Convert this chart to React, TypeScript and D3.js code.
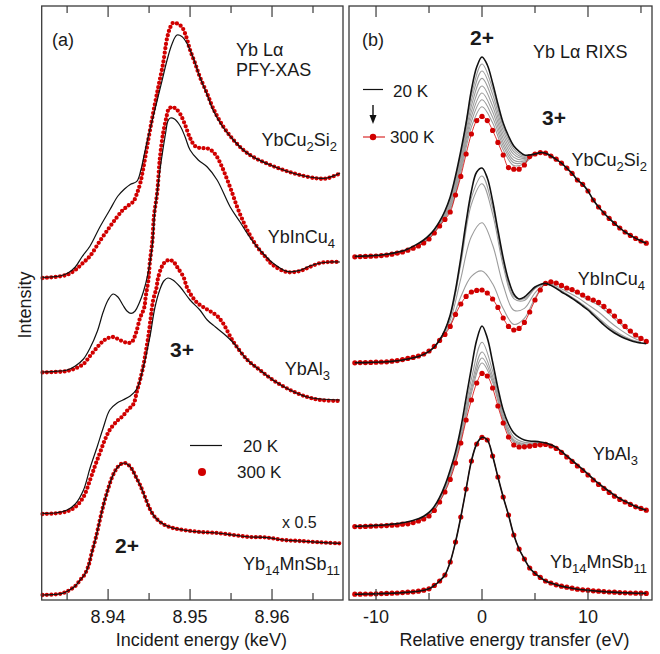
import { useRef, useEffect } from "react";
import * as d3 from "d3";

type Pt = [number, number];

const WIDTH = 660;
const HEIGHT = 654;
const TOP = 6;
const BOTTOM = 600;
const PANEL_A: [number, number] = [41.7, 343];
const PANEL_B: [number, number] = [349, 652];
const FONT = "'Liberation Sans', Arial, Helvetica, sans-serif";
const INK = "#1a1a1a";
const FRAME = "#3a3a3a";
const RED = "#d10000";
const GRAY = "#9c9c9c";

// axes
const intensityDomain = [0, 297];
const xasDomain = [8.9319, 8.96866];
const rixsDomain = [-12.55, 16.04];
const xasMajorTicks = [8.94, 8.95, 8.96];
const xasMinorTicks = [8.935, 8.945, 8.955, 8.965];
const rixsMajorTicks = [-10, 0, 10];
const rixsMinorTicks = [-5, 5, 15];

// (a) Yb La PFY-XAS, [incident energy keV, intensity], curves offset vertically
const xasCu2Si2_20K: Pt[] = [
  [8.932, 161.3], [8.9329, 161.5], [8.9341, 162], [8.9351, 163.5], [8.936, 166.5], [8.9368, 171.5],
  [8.9378, 177], [8.939, 186.5], [8.9402, 195], [8.9412, 202], [8.942, 205.5], [8.9427, 207.8],
  [8.9435, 209.3], [8.944, 215], [8.9444, 222.5], [8.9448, 230], [8.9454, 240], [8.946, 250],
  [8.9466, 260], [8.9472, 270], [8.9478, 278], [8.9484, 282.5], [8.949, 281.8], [8.9496, 278.5],
  [8.9504, 271], [8.9512, 261.5], [8.9521, 252.5], [8.9528, 245], [8.954, 236.5], [8.9553, 230],
  [8.9565, 225], [8.9577, 221.5], [8.9595, 218], [8.9614, 215], [8.9634, 212.5], [8.9655, 211],
  [8.9667, 211], [8.9683, 213.5],
];
const xasCu2Si2_300K: Pt[] = [
  [8.932, 161], [8.9329, 161.3], [8.9341, 161.8], [8.9351, 162.8], [8.936, 165], [8.9368, 168],
  [8.9378, 172], [8.939, 179.5], [8.9402, 186.5], [8.9411, 191.5], [8.9418, 195], [8.9424, 197],
  [8.9431, 199.3], [8.9435, 203], [8.9439, 208], [8.9443, 216], [8.9449, 230], [8.9455, 243.5],
  [8.9461, 256], [8.9467, 268], [8.9472, 281], [8.9476, 286.5], [8.9479, 288.5], [8.9484, 288.3],
  [8.949, 286.5], [8.9495, 282], [8.95, 275], [8.9506, 268.5], [8.9512, 261.5], [8.9521, 253],
  [8.9528, 246], [8.954, 237], [8.9553, 230], [8.9565, 225], [8.9577, 221.5], [8.9595, 218],
  [8.9614, 215], [8.9634, 212.5], [8.9655, 210.8], [8.9667, 210.8], [8.9683, 213.3],
];
const xasInCu4_20K: Pt[] = [
  [8.932, 114], [8.9335, 114.3], [8.935, 115], [8.936, 117], [8.937, 120.5], [8.9378, 126],
  [8.9387, 134.5], [8.9394, 144], [8.94, 150], [8.9406, 153], [8.9412, 151.5], [8.9418, 147.5],
  [8.9423, 144.5], [8.9428, 143.3], [8.9433, 144.5], [8.9438, 148.5], [8.9443, 154], [8.9449, 164],
  [8.9454, 177.5], [8.9457, 194], [8.9461, 207.5], [8.9465, 220], [8.947, 233], [8.9473, 239.5],
  [8.9476, 241], [8.9481, 240.5], [8.9488, 237], [8.9494, 231.5], [8.95, 225], [8.951, 220],
  [8.9521, 216.5], [8.9533, 210], [8.9549, 196.5], [8.9561, 189], [8.9571, 182.5], [8.9582, 176.5],
  [8.9592, 172], [8.9601, 168.5], [8.9618, 164.3], [8.9634, 164.8], [8.9646, 167], [8.9659, 168.5],
  [8.9671, 169], [8.9683, 169],
];
const xasInCu4_300K: Pt[] = [
  [8.932, 113.8], [8.9335, 114], [8.935, 114.5], [8.936, 115.8], [8.937, 118], [8.9378, 122],
  [8.9387, 126.5], [8.9394, 129.5], [8.94, 131], [8.9406, 131.5], [8.9412, 130.5], [8.9418, 129.3],
  [8.9424, 128.5], [8.9429, 129], [8.9434, 133.5], [8.9439, 141], [8.9444, 146], [8.9446, 152],
  [8.9449, 159.5], [8.9451, 169], [8.9454, 179.5], [8.9456, 192], [8.946, 204], [8.9463, 220],
  [8.9467, 233], [8.9471, 241], [8.9474, 245.5], [8.9478, 246.5], [8.9483, 245.5], [8.9488, 243],
  [8.9494, 237.5], [8.95, 231], [8.9506, 227], [8.9512, 226], [8.9521, 225.8], [8.9527, 224.5],
  [8.9533, 221.5], [8.9539, 216.5], [8.9545, 210.5], [8.9551, 204], [8.9557, 197], [8.9563, 191],
  [8.9571, 184], [8.9582, 176.5], [8.9592, 171.5], [8.9601, 167.5], [8.9618, 164], [8.9634, 164.5],
  [8.9646, 166.5], [8.9659, 168.5], [8.9671, 169], [8.9683, 169],
];
const xasAl3_20K: Pt[] = [
  [8.932, 43.3], [8.9335, 43.5], [8.935, 45], [8.936, 48], [8.937, 55], [8.9378, 66], [8.9387, 77],
  [8.9394, 86], [8.9402, 95], [8.9411, 98.5], [8.9418, 100], [8.9427, 102], [8.9435, 105.5],
  [8.9443, 116.5], [8.9451, 131.5], [8.9457, 146], [8.9463, 155], [8.9468, 159.5], [8.9473, 161],
  [8.9479, 160], [8.9488, 156.5], [8.95, 150], [8.9512, 145], [8.9521, 140], [8.9531, 136.5],
  [8.954, 133.5], [8.9553, 128.5], [8.957, 120], [8.9585, 115], [8.9601, 110], [8.9622, 105],
  [8.9643, 101.5], [8.9659, 100.5], [8.9683, 100],
];
const xasAl3_300K: Pt[] = [
  [8.932, 43], [8.9335, 43.3], [8.935, 44.3], [8.936, 46.5], [8.937, 51.5], [8.9378, 60],
  [8.9384, 67], [8.939, 73.5], [8.9396, 80], [8.9402, 85], [8.9411, 89.5], [8.9418, 92],
  [8.9424, 95], [8.9431, 98], [8.9435, 104], [8.9439, 110], [8.9443, 117], [8.9446, 124],
  [8.9449, 131.5], [8.9452, 141], [8.9455, 150], [8.9459, 156], [8.9461, 161], [8.9466, 167],
  [8.9471, 169.5], [8.9476, 170], [8.9481, 168.5], [8.9485, 166], [8.9492, 161.5], [8.9496, 156.5],
  [8.9502, 152], [8.9509, 148.5], [8.9516, 146.5], [8.9524, 144.5], [8.9533, 142], [8.954, 138.5],
  [8.9553, 129], [8.957, 120], [8.9585, 115], [8.9601, 110], [8.9622, 105], [8.9643, 101.5],
  [8.9659, 100], [8.9683, 99.5],
];
const xasMnSb_20K: Pt[] = [
  [8.932, 2.5], [8.9335, 2.8], [8.9344, 3.3], [8.9351, 4.5], [8.936, 7], [8.9366, 10], [8.9371, 12.5],
  [8.9376, 17], [8.938, 23.5], [8.9385, 31], [8.939, 40], [8.9395, 48.5], [8.94, 55.5], [8.9405, 61.5],
  [8.941, 65.5], [8.9415, 67.8], [8.942, 68.5], [8.9424, 67.8], [8.9429, 65.5], [8.9434, 61.5],
  [8.9439, 57.5], [8.9445, 51.5], [8.9451, 45.5], [8.9457, 41.5], [8.9467, 38], [8.9479, 36],
  [8.9492, 35], [8.9512, 34], [8.9533, 33.5], [8.9553, 32.5], [8.9573, 31.5], [8.9592, 31.3],
  [8.9614, 30], [8.9634, 29.5], [8.9659, 28.8], [8.9683, 28.3],
];
const xasMnSb_300K: Pt[] = [
  [8.932, 2.5], [8.9335, 2.8], [8.9344, 3.3], [8.9351, 4.5], [8.936, 7], [8.9366, 10], [8.9371, 12.5],
  [8.9376, 17], [8.938, 23.5], [8.9385, 31], [8.939, 40], [8.9395, 48.5], [8.94, 55.5], [8.9405, 61.5],
  [8.941, 65.5], [8.9415, 67.8], [8.942, 68.5], [8.9424, 67.8], [8.9429, 65.5], [8.9434, 61.5],
  [8.9439, 57.5], [8.9445, 51.5], [8.9451, 45.5], [8.9457, 41.5], [8.9467, 38], [8.9479, 36],
  [8.9492, 35], [8.9512, 34], [8.9533, 33.5], [8.9553, 32.5], [8.9573, 31.5], [8.9592, 31.3],
  [8.9614, 30], [8.9634, 29.5], [8.9659, 28.8], [8.9683, 28.3],
];

// (b) Yb La RIXS, relative energy transfer grid (eV)
const rixsEnergy = [
  -12, -11.5, -11, -10.5, -10, -9.5, -9, -8.5, -8, -7.5, -7, -6.5, -6, -5.5, -5, -4.5, -4, -3.5, -3, -2.5,
  -2, -1.5, -1, -0.5, 0, 0.5, 1, 1.5, 2, 2.5, 3, 3.5, 4, 4.5, 5, 5.5, 6, 6.5, 7, 7.5, 8, 8.5, 9, 9.5, 10,
  10.5, 11, 11.5, 12, 12.5, 13, 13.5, 14, 14.5, 15, 15.5,
];
const rixsGridNarrow = [-6, -5, -4, -3, -2, -1, 0, 1, 2, 3, 4, 5, 6, 7];
const rixsGridWide = [-6, -5, -4, -3, -2, -1, 0, 1, 2, 3, 4, 5, 6, 7, 8, 9, 10, 11, 12, 13, 14, 15];

const rixsCu2Si2_20K = [
  171.8, 171.9, 172, 172.1, 172.3, 172.5, 172.9, 173.3, 173.9, 174.5, 175.5, 176.8, 178.3, 180, 182.3,
  185.3, 189.3, 194.5, 201.5, 212, 224.5, 238.5, 255, 266.5, 271.5, 267.5, 258.5, 248, 238.5, 232, 227,
  224.3, 222.5, 222.5, 223, 223.7, 223.4, 222, 220.3, 218.4, 215.9, 213.4, 210, 207.8, 204.5, 200,
  196.5, 193.5, 190.8, 188.3, 186, 184, 182.3, 180.8, 179.5, 178.4,
];
const rixsCu2Si2_300K = [
  171.6, 171.7, 171.8, 171.9, 172, 172.2, 172.5, 172.9, 173.4, 174, 174.9, 175.9, 177, 178.5, 180.5,
  183.5, 187, 190.3, 194, 202.5, 211.8, 223, 233, 239.7, 241.8, 239.7, 234.8, 228.8, 222.5, 216.2,
  215.4, 215.4, 217.5, 221.7, 223, 223.7, 223.4, 222, 220.4, 218.4, 215.9, 213.3, 210, 207.8, 204.5,
  200, 196.5, 193.5, 190.8, 188.3, 186, 184, 182.3, 180.8, 179.5, 178.4,
];
const rixsCu2Si2_mid = [
  [178.1, 182.1, 189.0, 200.6, 223.0, 252.4, 268.0, 255.7, 236.6, 225.6, 221.9, 223, 223.4, 220.3],
  [178.0, 181.9, 188.8, 199.7, 221.5, 249.8, 264.5, 252.9, 234.7, 224.2, 221.3, 223, 223.4, 220.3],
  [177.8, 181.7, 188.5, 198.8, 219.9, 247.1, 260.8, 250.0, 232.7, 222.8, 220.7, 223, 223.4, 220.3],
  [177.7, 181.4, 188.2, 197.8, 218.3, 244.3, 257.0, 247.0, 230.7, 221.3, 220.1, 223, 223.4, 220.3],
  [177.5, 181.2, 187.9, 197.0, 216.8, 241.7, 253.5, 244.1, 228.8, 219.9, 219.5, 223, 223.4, 220.3],
  [177.4, 181.0, 187.6, 196.1, 215.4, 239.2, 250.1, 241.4, 227.0, 218.6, 218.9, 223, 223.4, 220.3],
  [177.2, 180.8, 187.4, 195.2, 213.8, 236.5, 246.6, 238.6, 225.1, 217.2, 218.3, 223, 223.4, 220.3],
];

const rixsInCu4_20K = [
  118.6, 118.7, 118.7, 118.8, 118.9, 119, 119.1, 119.3, 119.6, 120, 120.5, 121.1, 121.8, 122.8, 124.3,
  126.5, 130, 135, 142.5, 155, 171, 189, 204.5, 214, 216, 211, 199.5, 185, 171, 160, 153, 150.5, 151.5,
  154, 156.5, 157.8, 158.3, 157.3, 155.8, 154, 152.5, 150.8, 149, 147, 145, 142.5, 140, 137.5, 135.3,
  133.5, 132, 130.8, 129.8, 129, 128.5, 128.1,
];
const rixsInCu4_300K = [
  118.6, 118.7, 118.7, 118.8, 118.9, 119, 119.1, 119.4, 119.7, 120.2, 120.8, 121.3, 122, 123, 124.5,
  126.8, 129.8, 132.8, 136.8, 142.8, 148, 151.8, 154, 154.8, 155, 153.5, 150.5, 146.3, 141, 136.8, 135,
  135.8, 138.8, 144, 150, 155, 158.3, 159.1, 158.5, 157.3, 156, 155.2, 154, 152.5, 151, 150, 148.8,
  146.8, 144.5, 142, 139.3, 136.8, 134.5, 132.5, 130.8, 129.3,
];
const rixsInCu4_mid = [
  [121.8, 124.3, 130, 142.1, 169.5, 201.2, 212, 196.3, 169, 151.8, 150.7, 156.1, 158.3, 156, 152.7, 149.3, 145.4, 140.6, 135.9, 132.5, 130.1, 128.7],
  [121.8, 124.3, 130, 141.8, 168, 197.9, 208.1, 193.1, 167.1, 150.7, 149.8, 155.7, 158.3, 156.2, 153, 149.7, 145.8, 141.1, 136.5, 133, 130.4, 128.8],
  [121.9, 124.4, 129.9, 139.9, 160.7, 181.8, 188.6, 177.5, 157.5, 144.9, 145.8, 153.6, 158.3, 157, 154.1, 151.3, 147.7, 144, 139.4, 135.3, 131.9, 129.5],
  [122, 124.5, 129.8, 137.7, 151.6, 161.8, 164.5, 158.1, 145.7, 137.8, 140.8, 151, 158.3, 158.1, 155.5, 153.2, 150.1, 147.4, 143.1, 138.2, 133.8, 130.4],
];

const rixsAl3_20K = [
  36.9, 36.9, 37, 37.1, 37.3, 37.4, 37.6, 37.9, 38.2, 38.6, 39.1, 39.8, 40.6, 41.9, 43.8, 46.8, 51.3,
  57.3, 65, 74, 86, 101, 116, 130, 137, 131, 119, 106, 95, 88, 83.5, 81.3, 80, 79.5, 79.3, 79, 78.5,
  77.6, 76.3, 74.3, 72, 69.8, 67.5, 65.3, 63, 60.5, 58.3, 56.3, 54.3, 52.4, 50.7, 49.3, 48, 46.8, 45.8,
  44.9,
];
const rixsAl3_300K = [
  36.7, 36.7, 36.8, 36.9, 37, 37.1, 37.2, 37.4, 37.5, 37.9, 38.1, 38.7, 39.5, 40.5, 42, 44.8, 49, 54,
  60.3, 68.5, 78.5, 90, 100, 108.5, 113.3, 112, 106, 97, 88.5, 81.5, 77.5, 76.5, 76.6, 76.9, 77.3,
  77.6, 77.8, 77, 75.8, 73.8, 71.5, 69.3, 67, 64.8, 62.5, 60, 57.8, 55.8, 53.8, 51.9, 50.3, 49, 47.8,
  46.6, 45.8, 44.9,
];
const rixsAl3_mid = [
  [40.2, 43.2, 50.5, 63.4, 83.5, 110.6, 128.9, 114.6, 92.8, 81.5, 78.8, 78.6, 78.3, 76.1],
  [40.0, 42.8, 50.0, 62.4, 81.9, 107.2, 124.0, 111.9, 91.4, 80.2, 78.1, 78.2, 78.1, 76.0],
  [39.9, 42.6, 49.7, 61.8, 80.9, 105.2, 121.0, 110.2, 90.6, 79.5, 77.7, 78.0, 78.0, 76.0],
  [39.8, 42.4, 49.5, 61.3, 80.2, 103.5, 118.5, 108.9, 89.9, 78.8, 77.3, 77.7, 77.9, 75.9],
];

const rixsMnSb_20K = [
  2.9, 2.9, 3.0, 3.0, 3.1, 3.2, 3.3, 3.4, 3.5, 3.7, 3.9, 4.1, 4.4, 4.9, 5.6, 7.3, 9.5, 12.5, 19, 29,
  41.5, 55.5, 69.5, 78, 81.3, 80, 72, 61.5, 51.5, 42.5, 32.5, 25.5, 20.5, 16, 13.3, 11.3, 9.5, 8.5, 7.6,
  6.9, 6.4, 5.9, 5.4, 5.1, 4.9, 4.6, 4.4, 4.2, 4, 3.9, 3.7, 3.6, 3.5, 3.4, 3.4, 3.3,
];
const rixsMnSb_300K = [
  2.9, 2.9, 3.0, 3.0, 3.1, 3.2, 3.3, 3.4, 3.5, 3.7, 3.9, 4.1, 4.4, 4.9, 5.6, 7.3, 9.5, 12.5, 19, 29,
  41.5, 55.5, 69.5, 78, 81.3, 80, 72, 61.5, 51.5, 42.5, 32.5, 25.5, 20.5, 16, 13.3, 11.3, 9.5, 8.5, 7.6,
  6.9, 6.4, 5.9, 5.4, 5.1, 4.9, 4.6, 4.4, 4.2, 4, 3.9, 3.7, 3.6, 3.5, 3.4, 3.4, 3.3,
];

const xasSeries = [
  { cold: xasCu2Si2_20K, hot: xasCu2Si2_300K },
  { cold: xasInCu4_20K, hot: xasInCu4_300K },
  { cold: xasAl3_20K, hot: xasAl3_300K },
  { cold: xasMnSb_20K, hot: xasMnSb_300K },
];

const rixsSeries = [
  { cold: rixsCu2Si2_20K, hot: rixsCu2Si2_300K, mid: rixsCu2Si2_mid, midGrid: rixsGridNarrow },
  { cold: rixsInCu4_20K, hot: rixsInCu4_300K, mid: rixsInCu4_mid, midGrid: rixsGridWide },
  { cold: rixsAl3_20K, hot: rixsAl3_300K, mid: rixsAl3_mid, midGrid: rixsGridNarrow },
  { cold: rixsMnSb_20K, hot: rixsMnSb_300K, mid: [] as number[][], midGrid: rixsGridNarrow },
];

const App = () => {
  const svgRef = useRef<SVGSVGElement>(null);

  useEffect(() => {
    const svg = d3.select(svgRef.current);
    svg.selectAll("*").remove();
    svg.attr("font-family", FONT);

    const y = d3.scaleLinear().domain(intensityDomain).range([BOTTOM, TOP]);
    const xa = d3.scaleLinear().domain(xasDomain).range(PANEL_A);
    const xb = d3.scaleLinear().domain(rixsDomain).range(PANEL_B);

    const lineOf = (x: d3.ScaleLinear<number, number>) =>
      d3
        .line<Pt>()
        .x((d) => x(d[0]))
        .y((d) => y(d[1]))
        .curve(d3.curveCatmullRom.alpha(0.5));

    const label = (
      x: number,
      yy: number,
      text: string,
      size = 18,
      anchor = "start",
      bold = false
    ) =>
      svg
        .append("text")
        .attr("x", x)
        .attr("y", yy)
        .attr("font-size", size)
        .attr("font-weight", bold ? "bold" : null)
        .attr("text-anchor", anchor)
        .attr("fill", INK)
        .text(text);

    // chemical formula, digits as subscripts, right aligned
    const formula = (x: number, yy: number, text: string) => {
      const t = svg
        .append("text")
        .attr("x", x)
        .attr("y", yy)
        .attr("text-anchor", "end")
        .attr("font-size", 18)
        .attr("fill", INK);
      let sub = false;
      (text.match(/\d+|\D+/g) || []).forEach((part) => {
        const isSub = /^\d/.test(part);
        t.append("tspan")
          .attr("dy", isSub === sub ? 0 : isSub ? 5 : -5)
          .attr("font-size", isSub ? 13 : 18)
          .text(part);
        sub = isSub;
      });
    };

    // ---- panel (a): PFY-XAS
    const lineA = lineOf(xa);
    const ga = svg.append("g");
    xasSeries.forEach((s) => {
      ga.append("path")
        .datum(s.hot)
        .attr("d", lineA)
        .attr("fill", "none")
        .attr("stroke", RED)
        .attr("stroke-width", 4.3)
        .attr("stroke-linecap", "round")
        .attr("stroke-dasharray", "0 4.4");
      ga.append("path")
        .datum(s.cold)
        .attr("d", lineA)
        .attr("fill", "none")
        .attr("stroke", "#111")
        .attr("stroke-width", 1.2);
    });

    // ---- panel (b): RIXS
    const lineB = lineOf(xb);
    const gb = svg.append("g");
    rixsSeries.forEach((s) => {
      s.mid.forEach((vals) => {
        gb.append("path")
          .datum(s.midGrid.map((e, i) => [e, vals[i]] as Pt))
          .attr("d", lineB)
          .attr("fill", "none")
          .attr("stroke", GRAY)
          .attr("stroke-width", 1.1);
      });
      const hot = rixsEnergy.map((e, i) => [e, s.hot[i]] as Pt);
      gb.append("path")
        .datum(hot)
        .attr("d", lineB)
        .attr("fill", "none")
        .attr("stroke", RED)
        .attr("stroke-width", 0.8);
      gb.selectAll(null)
        .data(hot)
        .enter()
        .append("circle")
        .attr("cx", (d) => xb(d[0]))
        .attr("cy", (d) => y(d[1]))
        .attr("r", 2.6)
        .attr("fill", RED);
      gb.append("path")
        .datum(rixsEnergy.map((e, i) => [e, s.cold[i]] as Pt))
        .attr("d", lineB)
        .attr("fill", "none")
        .attr("stroke", "#111")
        .attr("stroke-width", 1.6);
    });

    // ---- frames and ticks
    const frame = (
      x: d3.ScaleLinear<number, number>,
      range: [number, number],
      major: number[],
      minor: number[],
      fmt: (v: number) => string
    ) => {
      svg
        .append("rect")
        .attr("x", range[0])
        .attr("y", TOP)
        .attr("width", range[1] - range[0])
        .attr("height", BOTTOM - TOP)
        .attr("fill", "none")
        .attr("stroke", FRAME)
        .attr("stroke-width", 1.3);
      const g = svg.append("g").attr("stroke", FRAME).attr("stroke-width", 1.2);
      const all: [number, number][] = [
        ...major.map((v) => [v, 11] as [number, number]),
        ...minor.map((v) => [v, 7] as [number, number]),
      ];
      all.forEach(([v, len]) => {
        g.append("line").attr("x1", x(v)).attr("x2", x(v)).attr("y1", BOTTOM).attr("y2", BOTTOM - len);
        g.append("line").attr("x1", x(v)).attr("x2", x(v)).attr("y1", TOP).attr("y2", TOP + len);
      });
      major.forEach((v) => label(x(v), 623, fmt(v), 18, "middle"));
    };
    frame(xa, PANEL_A, xasMajorTicks, xasMinorTicks, (v) => v.toFixed(2));
    frame(xb, PANEL_B, rixsMajorTicks, rixsMinorTicks, (v) => String(v));

    // axis titles
    label((PANEL_A[0] + PANEL_A[1]) / 2 + 9, 646, "Incident energy (keV)", 18, "middle");
    label((PANEL_B[0] + PANEL_B[1]) / 2 + 14, 646, "Relative energy transfer (eV)", 18, "middle");
    svg
      .append("text")
      .attr("transform", "translate(31,305) rotate(-90)")
      .attr("text-anchor", "middle")
      .attr("font-size", 18)
      .attr("fill", INK)
      .text("Intensity");

    // panel (a) annotations
    label(52, 46, "(a)");
    label(236, 56, "Yb L\u03b1");
    label(236, 76, "PFY-XAS");
    formula(337, 146, "YbCu2Si2");
    formula(335, 243, "YbInCu4");
    formula(330, 375, "YbAl3");
    formula(340, 570, "Yb14MnSb11");
    label(282, 528, "x 0.5", 16);
    label(170, 357, "3+", 21, "start", true);
    label(115, 553, "2+", 21, "start", true);
    svg.append("line").attr("x1", 190).attr("x2", 222).attr("y1", 445.5).attr("y2", 445.5)
      .attr("stroke", "#111").attr("stroke-width", 1.2);
    label(243, 452, "20 K", 17);
    svg.append("circle").attr("cx", 202).attr("cy", 472).attr("r", 4).attr("fill", RED);
    label(237, 478, "300 K", 17);

    // panel (b) annotations
    label(362, 46, "(b)");
    label(470, 45, "2+", 21, "start", true);
    label(533, 58, "Yb L\u03b1 RIXS");
    label(542, 125, "3+", 21, "start", true);
    formula(647, 166, "YbCu2Si2");
    formula(645, 285, "YbInCu4");
    formula(638, 460, "YbAl3");
    formula(647, 568, "Yb14MnSb11");
    svg.append("line").attr("x1", 363).attr("x2", 383).attr("y1", 89.5).attr("y2", 89.5)
      .attr("stroke", "#111").attr("stroke-width", 1.2);
    label(393, 97, "20 K", 17);
    svg.append("line").attr("x1", 373).attr("x2", 373).attr("y1", 105).attr("y2", 116)
      .attr("stroke", "#111").attr("stroke-width", 1.4);
    svg.append("path").attr("d", "M369.5,115 L376.5,115 L373,124 Z").attr("fill", "#111");
    svg.append("line").attr("x1", 363).attr("x2", 385).attr("y1", 137).attr("y2", 137)
      .attr("stroke", RED).attr("stroke-width", 1);
    svg.append("circle").attr("cx", 373).attr("cy", 137).attr("r", 3.2).attr("fill", RED);
    label(390, 143, "300 K", 17);
  }, []);

  return (
    <svg
      ref={svgRef}
      width={WIDTH}
      height={HEIGHT}
      style={{ position: "absolute", left: 0, top: 0, background: "#fff" }}
    />
  );
};

export default App;
